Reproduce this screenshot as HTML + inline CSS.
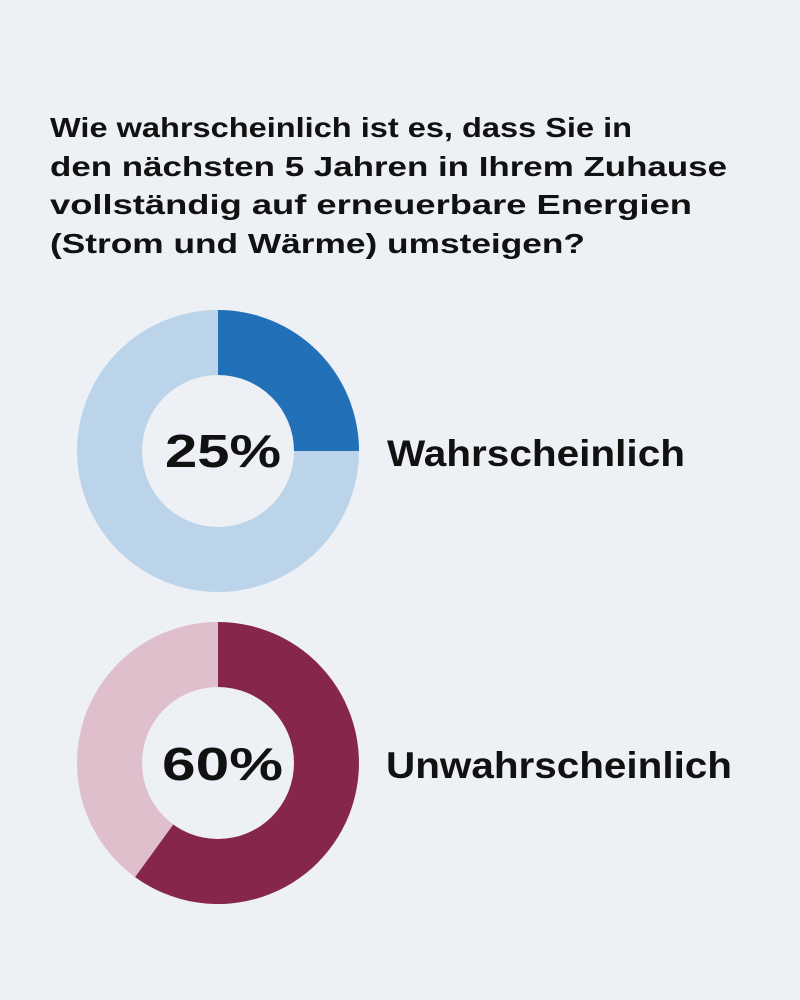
<!DOCTYPE html>
<html><head><meta charset="utf-8"><style>
html,body{margin:0;padding:0;background:#edf0f5;}
svg{display:block;}
text{font-family:"Liberation Sans",Arial,sans-serif;font-weight:bold;fill:#111;}
</style></head><body>
<svg width="800" height="1000" viewBox="0 0 800 1000" xmlns="http://www.w3.org/2000/svg">
<rect width="800" height="1000" fill="#edf0f5"/>
<g font-size="28" lengthAdjust="spacingAndGlyphs">
<text x="50" y="137" textLength="582" lengthAdjust="spacingAndGlyphs">Wie wahrscheinlich ist es, dass Sie in</text>
<text x="50" y="176" textLength="677" lengthAdjust="spacingAndGlyphs">den nächsten 5 Jahren in Ihrem Zuhause</text>
<text x="50" y="214" textLength="642" lengthAdjust="spacingAndGlyphs">vollständig auf erneuerbare Energien</text>
<text x="50" y="253" textLength="535" lengthAdjust="spacingAndGlyphs">(Strom und Wärme) umsteigen?</text>
</g>
<circle cx="218" cy="451" r="141" fill="#bcd4ea"/>
<path d="M218 451 L218 310 A141 141 0 0 1 359 451 Z" fill="#2271b8"/>
<circle cx="218" cy="451" r="76" fill="#edf0f5"/>
<text x="165" y="467" font-size="46" textLength="116" lengthAdjust="spacingAndGlyphs">25%</text>
<text x="387" y="466" font-size="37" textLength="298" lengthAdjust="spacingAndGlyphs">Wahrscheinlich</text>
<circle cx="218" cy="763" r="141" fill="#dfbfcb"/>
<path d="M218 763 L218 622 A141 141 0 1 1 135.1 877.1 Z" fill="#85264a"/>
<circle cx="218" cy="763" r="76" fill="#edf0f5"/>
<text x="162" y="780" font-size="46" textLength="121" lengthAdjust="spacingAndGlyphs">60%</text>
<text x="386" y="778" font-size="37" textLength="346" lengthAdjust="spacingAndGlyphs">Unwahrscheinlich</text>
</svg>
</body></html>
